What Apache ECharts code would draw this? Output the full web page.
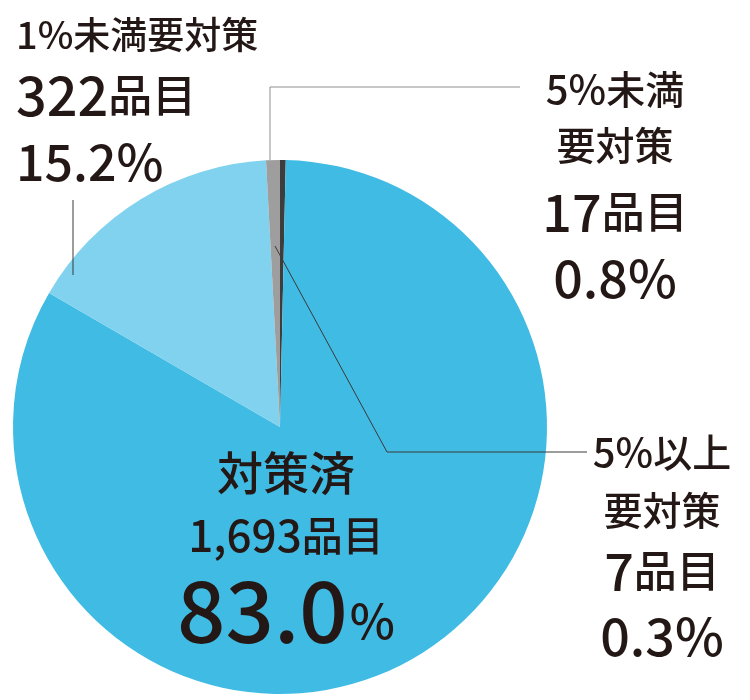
<!DOCTYPE html>
<html>
<head>
<meta charset="UTF-8">
<title>対策状況</title>
<script src="https://cdn.jsdelivr.net/npm/echarts@6/dist/echarts.min.js"></script>
<style>
html, body { margin: 0; padding: 0; background: #fff; }
#main { width: 750px; height: 700px; }
</style>
</head>
<body>
<div id="main"></div>
<script>
// data, clockwise from 12 o'clock
var names = ['5%以上要対策', '対策済', '1%未満要対策', '5%未満要対策'];
var counts = [7, 1693, 322, 17];
var percents = ['0.3', '83.0', '15.2', '0.8'];
var colors = ['#3d3d3d', '#40bbe3', '#80d2ee', '#9e9e9e'];

var ink = '#231815';
var font = '"Noto Sans CJK JP", "Noto Sans", sans-serif';

// [digit size, kanji size, line height] per text line
var blockLines = [
	[[40, 39, 58], [40, 39, 58], [52, 43, 64], [52, 43, 66]],
	[[44, 46, 60], [44, 41, 64], [85, 85, 88]],
	[[38, 37, 56], [54, 44, 64], [50, 44, 69]],
	[[40, 39, 56], [40, 39, 56], [52, 43, 78], [52, 43, 54]]
];
// where each label block goes
var blockPos = [
	{ x: 662, y: 423, align: 'center', line: [[275, 246], [387, 452], [587, 452]] },
	{ x: 286, y: 443, align: 'center', line: null },
	{ x: 16, y: 7, align: 'left', line: [[73, 275], [73, 200]] },
	{ x: 615, y: 61, align: 'center', line: [[270, 160], [270, 87], [520, 87]] }
];
var lineColors = ['#3a3a3a', '#3a3a3a', '#3a3a3a', '#8e8e8e'];

function richFor(lines) {
	var r = {};
	lines.forEach(function (ln, j) {
		r['d' + j] = { fontFamily: font, fontWeight: 500, fontSize: ln[0], lineHeight: ln[2], color: ink };
		r['k' + j] = { fontFamily: font, fontWeight: 500, fontSize: ln[1], lineHeight: ln[2], color: ink };
	});
	r.pct = { fontFamily: font, fontWeight: 500, fontSize: 48, lineHeight: 88, color: ink, padding: [20, 0, 0, 2] };
	return r;
}

function labelText(i) {
	var n = counts[i].toLocaleString('en-US');
	var pc = percents[i] + '%';
	if (i === 0) return '{d0|5%}{k0|以上}\n{k1|要対策}\n{d2|' + n + '}{k2|品目}\n{d3|' + pc + '}';
	if (i === 1) return '{k0|対策済}\n{d1|' + n + '}{k1|品目}\n{d2|' + percents[i] + '}{pct|%}';
	if (i === 2) return '{d0|1%}{k0|未満要対策}\n{d1|' + n + '}{k1|品目}\n{d2|' + pc + '}';
	return '{d0|5%}{k0|未満}\n{k1|要対策}\n{d2|' + n + '}{k2|品目}\n{d3|' + pc + '}';
}

var pieData = names.map(function (nm, i) {
	return {
		name: nm,
		value: counts[i],
		itemStyle: { color: colors[i] },
		label: { formatter: labelText(i), rich: richFor(blockLines[i]) },
		labelLine: {
			show: blockPos[i].line !== null,
			showAbove: true,
			lineStyle: { color: lineColors[i], width: 1 }
		}
	};
});

var myChart = echarts.init(document.getElementById('main'));

option = {
	animation: false,
	series: [
		{
			type: 'pie',
			center: [280, 427],
			radius: [0, 267],
			startAngle: 90,
			clockwise: true,
			avoidLabelOverlap: false,
			emphasis: { disabled: true },
			itemStyle: { borderWidth: 0 },
			label: { show: true, position: 'outside' },
			labelLine: { show: true, smooth: false, showAbove: true },
			labelLayout: function (p) {
				var b = blockPos[p.dataIndex];
				var out = { x: b.x, y: b.y, align: b.align, verticalAlign: 'top' };
				if (b.line) out.labelLinePoints = b.line;
				return out;
			},
			data: pieData
		}
	]
};

myChart.setOption(option);

// leader lines sit on top of the slices, like the print version
var zr = myChart.getZr();
zr.storage.getDisplayList(true).forEach(function (el) {
	if (el.type === 'polyline') {
		el.z = 10;
		el.z2 = 100;
		el.dirty();
	}
});
zr.refreshImmediately();
</script>
</body>
</html>
